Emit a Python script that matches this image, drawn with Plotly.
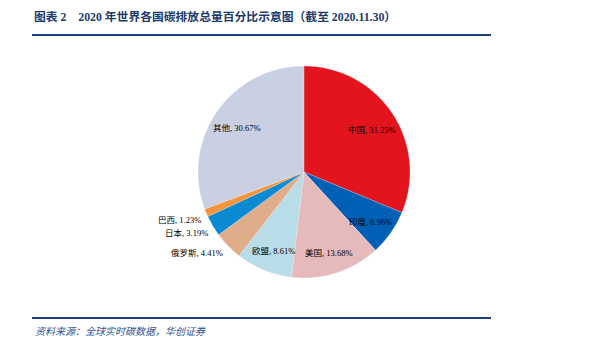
import math
import plotly.graph_objects as go

# 2020 share of global CO2 emissions by country / region (%)
countries = ["中国", "印度", "美国", "欧盟", "俄罗斯", "日本", "巴西", "其他"]
shares = [31.25, 6.96, 13.68, 8.61, 4.41, 3.19, 1.23, 30.67]
colors = ["#E3141E", "#0060B6", "#E6BABA", "#B8DDE8", "#E0AD8A", "#0A8AD2", "#F5953F", "#CAD0E3"]
# which labels sit inside the slice and which sit just outside the rim
label_inside = [True, True, True, True, False, False, False, True]

W, H = 609, 344
CX, CY, R = 304, 172, 106          # pie centre and radius in pixels

label_font = "Liberation Serif, Noto Sans CJK SC, serif"
navy = "#1C3A6E"

fig = go.Figure(go.Pie(
    labels=countries,
    values=shares,
    sort=False,
    direction="clockwise",
    rotation=0,
    marker=dict(colors=colors, line=dict(color="rgba(255,255,255,0.4)", width=0.5)),
    textinfo="none",
    showlegend=False,
    hoverinfo="label+value",
    domain=dict(x=[(CX - R) / W, (CX + R) / W], y=[1 - (CY + R) / H, 1 - (CY - R) / H]),
))


def to_paper(px, py):
    return px / W, 1 - py / H


# data labels placed at each slice's mid angle (clockwise from 12 o'clock)
annotations = []
total = sum(shares)
cum = 0.0
for name, val, inside in zip(countries, shares, label_inside):
    mid = (cum + val / 2) / total * 2 * math.pi
    cum += val
    sx, sy = math.sin(mid), -math.cos(mid)
    text = f"{name}, {val:.2f}%"
    if inside:
        px, py = CX + 0.77 * R * sx, CY + 0.77 * R * sy + 3
        x, y = to_paper(px, py)
        annotations.append(dict(text=text, x=x, y=y, xref="paper", yref="paper",
                                xanchor="center", yanchor="middle", showarrow=False,
                                font=dict(family=label_font, size=8.5, color="#000000")))
    else:
        px, py = CX + R * sx - 3, CY + R * sy + 7
        x, y = to_paper(px, py)
        annotations.append(dict(text=text, x=x, y=y, xref="paper", yref="paper",
                                xanchor="right", yanchor="middle", showarrow=False,
                                font=dict(family=label_font, size=8.5, color="#000000")))

annotations += [
    dict(text="<b>图表 2　2020 年世界各国碳排放总量百分比示意图（截至 2020.11.30）</b>",
         xref="paper", yref="paper", x=32 / W, y=1 - 17 / H,
         xanchor="left", yanchor="middle", showarrow=False,
         font=dict(family=label_font, size=11.8, color=navy)),
    dict(text="<i>资料来源：全球实时碳数据，华创证券</i>",
         xref="paper", yref="paper", x=33 / W, y=1 - 331 / H,
         xanchor="left", yanchor="middle", showarrow=False,
         font=dict(family=label_font, size=10, color="#2F5597")),
]

fig.update_layout(
    width=W,
    height=H,
    margin=dict(l=0, r=0, t=0, b=0),
    paper_bgcolor="white",
    plot_bgcolor="white",
    shapes=[
        dict(type="line", xref="paper", yref="paper", x0=32 / W, x1=491 / W,
             y0=1 - 35 / H, y1=1 - 35 / H, line=dict(color="#1C3F7C", width=2)),
        dict(type="line", xref="paper", yref="paper", x0=32 / W, x1=491 / W,
             y0=1 - 318 / H, y1=1 - 318 / H, line=dict(color="#1C3F7C", width=2)),
    ],
    annotations=annotations,
)

fig.write_html("out.html")
